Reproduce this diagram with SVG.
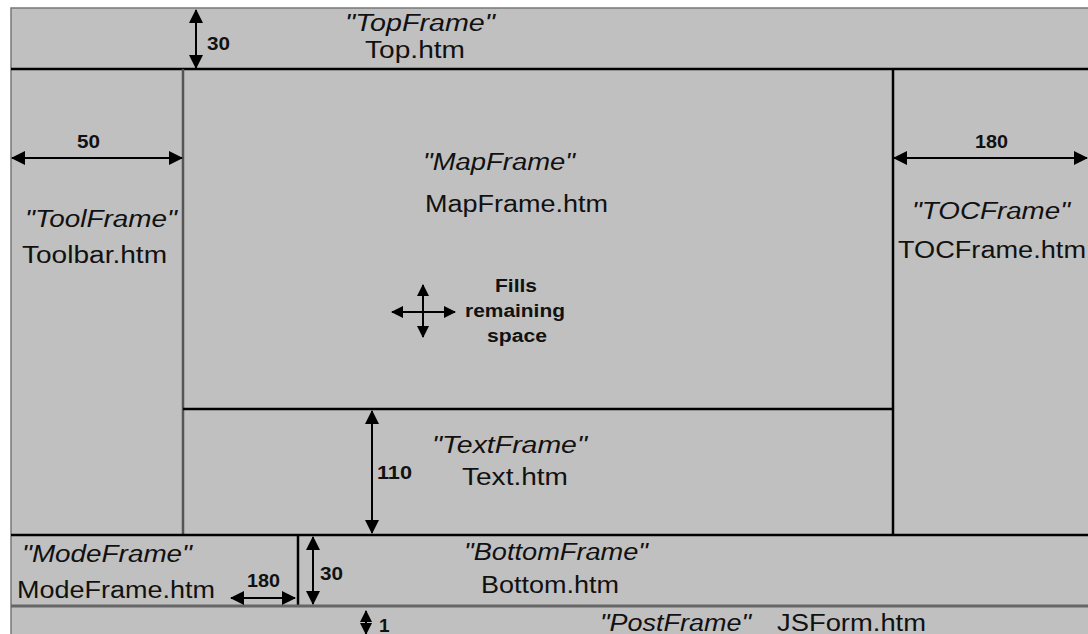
<svg xmlns="http://www.w3.org/2000/svg" width="1088" height="634" viewBox="0 0 1088 634">
<defs>
<marker id="ah" viewBox="0 0 14 14" refX="13" refY="7" markerWidth="14" markerHeight="14" markerUnits="userSpaceOnUse" orient="auto-start-reverse">
<path d="M0,0 L14,7 L0,14 z" fill="#000"/>
</marker>
<marker id="as" viewBox="0 0 12 12" refX="11" refY="6" markerWidth="12" markerHeight="12" markerUnits="userSpaceOnUse" orient="auto-start-reverse">
<path d="M0,0 L12,6 L0,12 z" fill="#000"/>
</marker>
<style>
.t{font-family:"Liberation Sans",Arial,sans-serif;font-size:23px;fill:#111}
.i{font-style:italic}
.d{font-family:"Liberation Sans",Arial,sans-serif;font-size:19px;font-weight:bold;fill:#111}
.f{font-family:"Liberation Sans",Arial,sans-serif;font-size:18px;font-weight:bold;fill:#111}
.blk{stroke:#000;stroke-width:2.5;fill:none}
.gry{stroke:#555;stroke-width:2.5;fill:none}
.arr{stroke:#000;stroke-width:2;fill:none;marker-start:url(#ah);marker-end:url(#ah)}
.ars{stroke:#000;stroke-width:2;fill:none;marker-start:url(#as);marker-end:url(#as)}
</style>
</defs>
<rect x="0" y="0" width="1088" height="634" fill="#fff"/>
<rect x="11" y="8" width="1090" height="640" fill="#c0c0c0" stroke="#777" stroke-width="1.5"/>
<g id="frames">
<line class="blk" x1="11" y1="69" x2="1088" y2="69"/>
<line class="gry" x1="183" y1="69" x2="183" y2="535"/>
<line class="blk" x1="893" y1="69" x2="893" y2="535"/>
<line class="blk" x1="183" y1="409" x2="893" y2="409"/>
<line class="blk" x1="11" y1="535" x2="1088" y2="535"/>
<line class="blk" x1="298" y1="535" x2="298" y2="606"/>
<line stroke="#666" stroke-width="3" x1="11" y1="606" x2="1088" y2="606"/>
</g>
<g id="TopFrame">
<text class="t i" x="345" y="31" textLength="150" lengthAdjust="spacingAndGlyphs">"TopFrame"</text>
<text class="t" x="365" y="58" textLength="100" lengthAdjust="spacingAndGlyphs">Top.htm</text>
</g>
<g id="MapFrame">
<text class="t i" x="423" y="170" textLength="152" lengthAdjust="spacingAndGlyphs">"MapFrame"</text>
<text class="t" x="425" y="212" textLength="183" lengthAdjust="spacingAndGlyphs">MapFrame.htm</text>
<text class="f" x="495" y="292" textLength="42" lengthAdjust="spacingAndGlyphs">Fills</text>
<text class="f" x="465" y="317" textLength="100" lengthAdjust="spacingAndGlyphs">remaining</text>
<text class="f" x="487" y="342" textLength="60" lengthAdjust="spacingAndGlyphs">space</text>
</g>
<g id="ToolFrame">
<text class="t i" x="25" y="227" textLength="152" lengthAdjust="spacingAndGlyphs">"ToolFrame"</text>
<text class="t" x="22" y="263" textLength="145" lengthAdjust="spacingAndGlyphs">Toolbar.htm</text>
</g>
<g id="TOCFrame">
<text class="t i" x="912" y="219" textLength="158" lengthAdjust="spacingAndGlyphs">"TOCFrame"</text>
<text class="t" x="898" y="258" textLength="188" lengthAdjust="spacingAndGlyphs">TOCFrame.htm</text>
</g>
<g id="TextFrame">
<text class="t i" x="432" y="453" textLength="155" lengthAdjust="spacingAndGlyphs">"TextFrame"</text>
<text class="t" x="462" y="485" textLength="106" lengthAdjust="spacingAndGlyphs">Text.htm</text>
</g>
<g id="ModeFrame">
<text class="t i" x="22" y="562" textLength="170" lengthAdjust="spacingAndGlyphs">"ModeFrame"</text>
<text class="t" x="17" y="598" textLength="198" lengthAdjust="spacingAndGlyphs">ModeFrame.htm</text>
</g>
<g id="BottomFrame">
<text class="t i" x="464" y="560" textLength="184" lengthAdjust="spacingAndGlyphs">"BottomFrame"</text>
<text class="t" x="481" y="593" textLength="138" lengthAdjust="spacingAndGlyphs">Bottom.htm</text>
</g>
<g id="PostFrame">
<text class="t i" x="600" y="631" textLength="151" lengthAdjust="spacingAndGlyphs">"PostFrame"</text>
<text class="t" x="777" y="631" textLength="149" lengthAdjust="spacingAndGlyphs">JSForm.htm</text>
</g>
<g id="connectors">
<line class="arr" x1="196" y1="10" x2="196" y2="68"/>
<text class="d" x="207" y="50" textLength="23" lengthAdjust="spacingAndGlyphs">30</text>
<line class="arr" x1="12" y1="158" x2="182" y2="158"/>
<text class="d" x="77" y="148" textLength="23" lengthAdjust="spacingAndGlyphs">50</text>
<line class="arr" x1="894" y1="158" x2="1087" y2="158"/>
<text class="d" x="975" y="148" textLength="33" lengthAdjust="spacingAndGlyphs">180</text>
<line class="ars" x1="392" y1="312" x2="455" y2="312"/>
<line class="ars" x1="423" y1="285" x2="423" y2="337"/>
<line class="arr" x1="372" y1="411" x2="372" y2="533"/>
<text class="d" x="377" y="479" textLength="35" lengthAdjust="spacingAndGlyphs">110</text>
<line class="arr" x1="313" y1="537" x2="313" y2="604"/>
<text class="d" x="320" y="580" textLength="23" lengthAdjust="spacingAndGlyphs">30</text>
<line class="arr" x1="231" y1="598" x2="295" y2="598"/>
<text class="d" x="247" y="587" textLength="33" lengthAdjust="spacingAndGlyphs">180</text>
<line class="ars" x1="366" y1="611" x2="366" y2="634"/>
<text class="d" x="379" y="632">1</text>
</g>
</svg>
